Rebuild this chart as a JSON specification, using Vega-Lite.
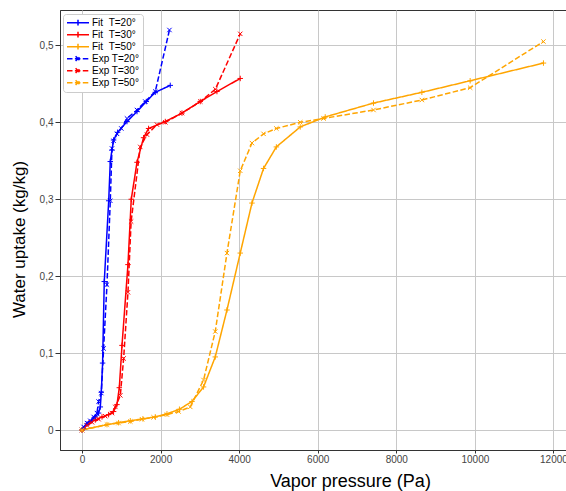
{
  "$schema": "https://vega.github.io/schema/vega-lite/v6.json",
  "width": 506,
  "height": 440,
  "autosize": {"type": "none"},
  "padding": {"left": 60, "top": 10, "right": 0, "bottom": 41},
  "background": "white",
  "config": {
    "view": {"stroke": "#333333", "strokeWidth": 1},
    "font": "Liberation Sans",
    "axis": {
      "grid": true, "gridColor": "#c8c8c8", "gridWidth": 1,
      "domainColor": "#333333", "tickColor": "#333333",
      "labelFont": "Liberation Sans", "labelFontSize": 10, "labelColor": "#444444",
      "titleFont": "Liberation Sans", "titleFontWeight": "normal", "titleColor": "black"
    }
  },
  "data": {"values": [
    {"series": "Fit\u00a0\u00a0T=20°", "type": "Fit", "P": 0, "W": 0},
    {"series": "Fit\u00a0\u00a0T=20°", "type": "Fit", "P": 127, "W": 0.008},
    {"series": "Fit\u00a0\u00a0T=20°", "type": "Fit", "P": 254, "W": 0.013},
    {"series": "Fit\u00a0\u00a0T=20°", "type": "Fit", "P": 338, "W": 0.017},
    {"series": "Fit\u00a0\u00a0T=20°", "type": "Fit", "P": 422, "W": 0.022},
    {"series": "Fit\u00a0\u00a0T=20°", "type": "Fit", "P": 466, "W": 0.030},
    {"series": "Fit\u00a0\u00a0T=20°", "type": "Fit", "P": 491, "W": 0.049},
    {"series": "Fit\u00a0\u00a0T=20°", "type": "Fit", "P": 524, "W": 0.087},
    {"series": "Fit\u00a0\u00a0T=20°", "type": "Fit", "P": 567, "W": 0.193},
    {"series": "Fit\u00a0\u00a0T=20°", "type": "Fit", "P": 680, "W": 0.298},
    {"series": "Fit\u00a0\u00a0T=20°", "type": "Fit", "P": 720, "W": 0.349},
    {"series": "Fit\u00a0\u00a0T=20°", "type": "Fit", "P": 763, "W": 0.364},
    {"series": "Fit\u00a0\u00a0T=20°", "type": "Fit", "P": 804, "W": 0.377},
    {"series": "Fit\u00a0\u00a0T=20°", "type": "Fit", "P": 906, "W": 0.387},
    {"series": "Fit\u00a0\u00a0T=20°", "type": "Fit", "P": 1145, "W": 0.401},
    {"series": "Fit\u00a0\u00a0T=20°", "type": "Fit", "P": 1400, "W": 0.414},
    {"series": "Fit\u00a0\u00a0T=20°", "type": "Fit", "P": 1636, "W": 0.427},
    {"series": "Fit\u00a0\u00a0T=20°", "type": "Fit", "P": 1865, "W": 0.439},
    {"series": "Fit\u00a0\u00a0T=20°", "type": "Fit", "P": 2247, "W": 0.448},

    {"series": "Fit\u00a0\u00a0T=30°", "type": "Fit", "P": 0, "W": 0},
    {"series": "Fit\u00a0\u00a0T=30°", "type": "Fit", "P": 168, "W": 0.009},
    {"series": "Fit\u00a0\u00a0T=30°", "type": "Fit", "P": 338, "W": 0.013},
    {"series": "Fit\u00a0\u00a0T=30°", "type": "Fit", "P": 509, "W": 0.017},
    {"series": "Fit\u00a0\u00a0T=30°", "type": "Fit", "P": 677, "W": 0.020},
    {"series": "Fit\u00a0\u00a0T=30°", "type": "Fit", "P": 804, "W": 0.024},
    {"series": "Fit\u00a0\u00a0T=30°", "type": "Fit", "P": 890, "W": 0.033},
    {"series": "Fit\u00a0\u00a0T=30°", "type": "Fit", "P": 950, "W": 0.055},
    {"series": "Fit\u00a0\u00a0T=30°", "type": "Fit", "P": 1018, "W": 0.110},
    {"series": "Fit\u00a0\u00a0T=30°", "type": "Fit", "P": 1170, "W": 0.215},
    {"series": "Fit\u00a0\u00a0T=30°", "type": "Fit", "P": 1254, "W": 0.300},
    {"series": "Fit\u00a0\u00a0T=30°", "type": "Fit", "P": 1400, "W": 0.348},
    {"series": "Fit\u00a0\u00a0T=30°", "type": "Fit", "P": 1567, "W": 0.380},
    {"series": "Fit\u00a0\u00a0T=30°", "type": "Fit", "P": 1695, "W": 0.392},
    {"series": "Fit\u00a0\u00a0T=30°", "type": "Fit", "P": 2120, "W": 0.401},
    {"series": "Fit\u00a0\u00a0T=30°", "type": "Fit", "P": 2545, "W": 0.412},
    {"series": "Fit\u00a0\u00a0T=30°", "type": "Fit", "P": 3010, "W": 0.427},
    {"series": "Fit\u00a0\u00a0T=30°", "type": "Fit", "P": 3435, "W": 0.440},
    {"series": "Fit\u00a0\u00a0T=30°", "type": "Fit", "P": 4028, "W": 0.457},

    {"series": "Fit\u00a0\u00a0T=50°", "type": "Fit", "P": 0, "W": 0},
    {"series": "Fit\u00a0\u00a0T=50°", "type": "Fit", "P": 636, "W": 0.007},
    {"series": "Fit\u00a0\u00a0T=50°", "type": "Fit", "P": 931, "W": 0.0095},
    {"series": "Fit\u00a0\u00a0T=50°", "type": "Fit", "P": 1229, "W": 0.012},
    {"series": "Fit\u00a0\u00a0T=50°", "type": "Fit", "P": 1550, "W": 0.0145},
    {"series": "Fit\u00a0\u00a0T=50°", "type": "Fit", "P": 1865, "W": 0.017},
    {"series": "Fit\u00a0\u00a0T=50°", "type": "Fit", "P": 2163, "W": 0.021},
    {"series": "Fit\u00a0\u00a0T=50°", "type": "Fit", "P": 2480, "W": 0.027},
    {"series": "Fit\u00a0\u00a0T=50°", "type": "Fit", "P": 2799, "W": 0.037},
    {"series": "Fit\u00a0\u00a0T=50°", "type": "Fit", "P": 3094, "W": 0.056},
    {"series": "Fit\u00a0\u00a0T=50°", "type": "Fit", "P": 3392, "W": 0.095},
    {"series": "Fit\u00a0\u00a0T=50°", "type": "Fit", "P": 3690, "W": 0.156},
    {"series": "Fit\u00a0\u00a0T=50°", "type": "Fit", "P": 4028, "W": 0.230},
    {"series": "Fit\u00a0\u00a0T=50°", "type": "Fit", "P": 4326, "W": 0.295},
    {"series": "Fit\u00a0\u00a0T=50°", "type": "Fit", "P": 4621, "W": 0.340},
    {"series": "Fit\u00a0\u00a0T=50°", "type": "Fit", "P": 4947, "W": 0.368},
    {"series": "Fit\u00a0\u00a0T=50°", "type": "Fit", "P": 5555, "W": 0.394},
    {"series": "Fit\u00a0\u00a0T=50°", "type": "Fit", "P": 6191, "W": 0.407},
    {"series": "Fit\u00a0\u00a0T=50°", "type": "Fit", "P": 7420, "W": 0.425},
    {"series": "Fit\u00a0\u00a0T=50°", "type": "Fit", "P": 8651, "W": 0.439},
    {"series": "Fit\u00a0\u00a0T=50°", "type": "Fit", "P": 9880, "W": 0.454},
    {"series": "Fit\u00a0\u00a0T=50°", "type": "Fit", "P": 11746, "W": 0.477},

    {"series": "Exp T=20°", "type": "Exp", "P": 0, "W": 0},
    {"series": "Exp T=20°", "type": "Exp", "P": 40, "W": 0.004},
    {"series": "Exp T=20°", "type": "Exp", "P": 127, "W": 0.009},
    {"series": "Exp T=20°", "type": "Exp", "P": 211, "W": 0.012},
    {"series": "Exp T=20°", "type": "Exp", "P": 296, "W": 0.017},
    {"series": "Exp T=20°", "type": "Exp", "P": 381, "W": 0.022},
    {"series": "Exp T=20°", "type": "Exp", "P": 422, "W": 0.037},
    {"series": "Exp T=20°", "type": "Exp", "P": 491, "W": 0.048},
    {"series": "Exp T=20°", "type": "Exp", "P": 550, "W": 0.106},
    {"series": "Exp T=20°", "type": "Exp", "P": 636, "W": 0.189},
    {"series": "Exp T=20°", "type": "Exp", "P": 720, "W": 0.298},
    {"series": "Exp T=20°", "type": "Exp", "P": 763, "W": 0.366},
    {"series": "Exp T=20°", "type": "Exp", "P": 804, "W": 0.376},
    {"series": "Exp T=20°", "type": "Exp", "P": 891, "W": 0.385},
    {"series": "Exp T=20°", "type": "Exp", "P": 1000, "W": 0.392},
    {"series": "Exp T=20°", "type": "Exp", "P": 1145, "W": 0.405},
    {"series": "Exp T=20°", "type": "Exp", "P": 1399, "W": 0.416},
    {"series": "Exp T=20°", "type": "Exp", "P": 1611, "W": 0.427},
    {"series": "Exp T=20°", "type": "Exp", "P": 1865, "W": 0.440},
    {"series": "Exp T=20°", "type": "Exp", "P": 2226, "W": 0.520},

    {"series": "Exp T=30°", "type": "Exp", "P": 0, "W": 0},
    {"series": "Exp T=30°", "type": "Exp", "P": 127, "W": 0.006},
    {"series": "Exp T=30°", "type": "Exp", "P": 254, "W": 0.010},
    {"series": "Exp T=30°", "type": "Exp", "P": 423, "W": 0.014},
    {"series": "Exp T=30°", "type": "Exp", "P": 592, "W": 0.018},
    {"series": "Exp T=30°", "type": "Exp", "P": 762, "W": 0.022},
    {"series": "Exp T=30°", "type": "Exp", "P": 848, "W": 0.030},
    {"series": "Exp T=30°", "type": "Exp", "P": 975, "W": 0.045},
    {"series": "Exp T=30°", "type": "Exp", "P": 1060, "W": 0.093},
    {"series": "Exp T=30°", "type": "Exp", "P": 1170, "W": 0.179},
    {"series": "Exp T=30°", "type": "Exp", "P": 1250, "W": 0.271},
    {"series": "Exp T=30°", "type": "Exp", "P": 1483, "W": 0.368},
    {"series": "Exp T=30°", "type": "Exp", "P": 1654, "W": 0.384},
    {"series": "Exp T=30°", "type": "Exp", "P": 1908, "W": 0.397},
    {"series": "Exp T=30°", "type": "Exp", "P": 2120, "W": 0.400},
    {"series": "Exp T=30°", "type": "Exp", "P": 2545, "W": 0.412},
    {"series": "Exp T=30°", "type": "Exp", "P": 3010, "W": 0.427},
    {"series": "Exp T=30°", "type": "Exp", "P": 3395, "W": 0.443},
    {"series": "Exp T=30°", "type": "Exp", "P": 4028, "W": 0.515},

    {"series": "Exp T=50°", "type": "Exp", "P": 0, "W": 0},
    {"series": "Exp T=50°", "type": "Exp", "P": 636, "W": 0.007},
    {"series": "Exp T=50°", "type": "Exp", "P": 931, "W": 0.009},
    {"series": "Exp T=50°", "type": "Exp", "P": 1229, "W": 0.011},
    {"series": "Exp T=50°", "type": "Exp", "P": 1527, "W": 0.014},
    {"series": "Exp T=50°", "type": "Exp", "P": 1822, "W": 0.0165},
    {"series": "Exp T=50°", "type": "Exp", "P": 2163, "W": 0.020},
    {"series": "Exp T=50°", "type": "Exp", "P": 2459, "W": 0.024},
    {"series": "Exp T=50°", "type": "Exp", "P": 2756, "W": 0.030},
    {"series": "Exp T=50°", "type": "Exp", "P": 3094, "W": 0.065},
    {"series": "Exp T=50°", "type": "Exp", "P": 3392, "W": 0.128},
    {"series": "Exp T=50°", "type": "Exp", "P": 3690, "W": 0.230},
    {"series": "Exp T=50°", "type": "Exp", "P": 4028, "W": 0.337},
    {"series": "Exp T=50°", "type": "Exp", "P": 4326, "W": 0.373},
    {"series": "Exp T=50°", "type": "Exp", "P": 4621, "W": 0.385},
    {"series": "Exp T=50°", "type": "Exp", "P": 4947, "W": 0.392},
    {"series": "Exp T=50°", "type": "Exp", "P": 5555, "W": 0.400},
    {"series": "Exp T=50°", "type": "Exp", "P": 6148, "W": 0.405},
    {"series": "Exp T=50°", "type": "Exp", "P": 7420, "W": 0.416},
    {"series": "Exp T=50°", "type": "Exp", "P": 8651, "W": 0.429},
    {"series": "Exp T=50°", "type": "Exp", "P": 9880, "W": 0.445},
    {"series": "Exp T=50°", "type": "Exp", "P": 11746, "W": 0.505}
  ]},
  "encoding": {
    "x": {
      "field": "P", "type": "quantitative",
      "scale": {"domain": [-560, 12320], "nice": false, "zero": false},
      "axis": {
        "values": [0, 2000, 4000, 6000, 8000, 10000, 12000],
        "format": "d", "tickSize": 3, "labelPadding": 1,
        "title": "Vapor pressure (Pa)", "titleFontSize": 18,
        "titleX": 290, "titleY": 36, "titleBaseline": "alphabetic", "titleAlign": "center"
      }
    },
    "y": {
      "field": "W", "type": "quantitative",
      "scale": {"domain": [-0.026, 0.546], "nice": false, "zero": false},
      "axis": {
        "values": [0, 0.1, 0.2, 0.3, 0.4, 0.5],
        "labelExpr": "datum.value == 0 ? '0' : replace(format(datum.value, '.1f'), '.', ',')",
        "tickSize": 5, "labelPadding": 2,
        "title": "Water uptake (kg/kg)", "titleFontSize": 17,
        "titleAngle": 270, "titleX": -36, "titleY": 229,
        "titleBaseline": "alphabetic", "titleAlign": "center"
      }
    }
  },
  "layer": [
    {
      "mark": {"type": "line", "strokeWidth": 1.5},
      "encoding": {
        "color": {
          "field": "series", "type": "nominal",
          "scale": {
            "domain": ["Fit\u00a0\u00a0T=20°", "Fit\u00a0\u00a0T=30°", "Fit\u00a0\u00a0T=50°", "Exp T=20°", "Exp T=30°", "Exp T=50°"],
            "range": ["#0000ff", "#ff0000", "#ffa500", "#0000ff", "#ff0000", "#ffa500"]
          },
          "legend": {
            "orient": "none", "legendX": 3, "legendY": 4, "title": null,
            "fillColor": "white", "strokeColor": "#cccccc", "cornerRadius": 3, "padding": 3,
            "symbolSize": 484, "symbolStrokeWidth": 1.5, "clipHeight": 11.3, "rowPadding": 0,
            "labelFont": "Liberation Sans", "labelFontSize": 10, "labelColor": "black", "labelOffset": 2,
            "encode": {"symbols": {"update": {
              "shape": {"signal": "indexof(datum.value, 'Fit') === 0 ? 'M-1,0L1,0M0,-0.27L0,0.27' : 'M-1,0L1,0M-0.22,-0.22L0.22,0.22M-0.22,0.22L0.22,-0.22'"}
            }}}
          }
        },
        "strokeDash": {
          "field": "series", "type": "nominal",
          "scale": {
            "domain": ["Fit\u00a0\u00a0T=20°", "Fit\u00a0\u00a0T=30°", "Fit\u00a0\u00a0T=50°", "Exp T=20°", "Exp T=30°", "Exp T=50°"],
            "range": [[1, 0], [1, 0], [1, 0], [5.5, 2.4], [5.5, 2.4], [5.5, 2.4]]
          },
          "legend": null
        }
      }
    },
    {
      "mark": {"type": "point", "filled": false, "strokeWidth": 1, "size": 30, "opacity": 1},
      "encoding": {
        "color": {"field": "series", "type": "nominal"},
        "shape": {
          "field": "type", "type": "nominal",
          "scale": {"domain": ["Fit", "Exp"], "range": ["M-1,0L1,0M0,-1L0,1", "M-0.8,-0.8L0.8,0.8M-0.8,0.8L0.8,-0.8"]},
          "legend": null
        }
      }
    }
  ]
}
